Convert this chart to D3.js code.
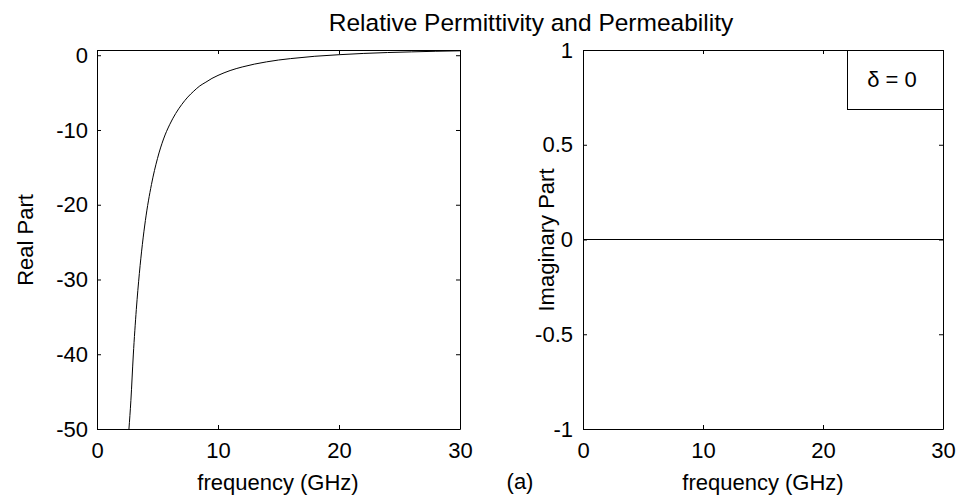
<!DOCTYPE html>
<html>
<head>
<meta charset="utf-8">
<script src="https://cdn.jsdelivr.net/npm/d3@7"></script>
<style>
body { margin: 0; background: #fff; }
text { font-family: "Liberation Sans", Arial, sans-serif; fill: #000; }
</style>
</head>
<body>
<div id="chart-area"></div>
<script>

let width = 961,
height = 497;

// values
let freq = [2.64, 2.8, 3.0, 3.25, 3.5, 3.75, 4.0, 4.5, 5.0, 5.5, 6.0, 6.5, 7.0, 7.5, 8.0, 8.5, 9.0, 9.5,
	10, 11, 12, 13, 14, 15, 16, 18, 20, 22, 24, 26, 28, 30];
let realPart = [-50, -46.2, -40.1, -34.0, -29.2, -25.3, -22.1, -17.3, -13.8, -11.2, -9.3, -7.8, -6.6, -5.6, -4.8, -4.1, -3.6, -3.1,
	-2.7, -2.05, -1.57, -1.19, -0.89, -0.64, -0.45, -0.14, 0.07, 0.24, 0.36, 0.45, 0.53, 0.59];
let imagFreq = [0, 30];
let imagPart = [0, 0];

let xTicks = [0, 10, 20, 30];
let realTicks = [-50, -40, -30, -20, -10, 0];
let imagTicks = [-1, -0.5, 0, 0.5, 1];

let fs = 22;   // font size

let svg = d3.select("#chart-area").append("svg")
	.attr("width", width)
	.attr("height", height);

// draws the 4 sides of one axes box
function drawBox(x, y, yt, ypad) {
	let [x0, x1] = x.range();
	let [y0, y1] = y.range(); // y0 bottom, y1 top

	svg.append("g")
		.attr("transform", "translate(0," + y0 + ")")
		.call(d3.axisBottom(x).tickValues(xTicks).tickSizeInner(-4).tickSizeOuter(0)
			.tickPadding(13).tickFormat(d => String(d)));

	svg.append("g")
		.attr("transform", "translate(0," + y1 + ")")
		.call(d3.axisTop(x).tickValues(xTicks).tickSizeInner(-4).tickSizeOuter(0).tickFormat(""));

	svg.append("g")
		.attr("transform", "translate(" + x0 + ",0)")
		.call(d3.axisLeft(y).tickValues(yt).tickSizeInner(-4).tickSizeOuter(0)
			.tickPadding(ypad).tickFormat(d => String(d)));

	svg.append("g")
		.attr("transform", "translate(" + x1 + ",0)")
		.call(d3.axisRight(y).tickValues(yt).tickSizeInner(-4).tickSizeOuter(0).tickFormat(""));

	svg.selectAll("g")
		.attr("font-size", fs)
		.attr("font-family", "Liberation Sans, Arial, sans-serif");
	svg.selectAll(".domain, .tick line").attr("stroke", "#000");
}

function label(x, y, txt, size, rotate) {
	return svg.append("text")
		.attr("transform", "translate(" + x + "," + y + ")" + (rotate ? " rotate(-90)" : ""))
		.attr("text-anchor", "middle")
		.attr("dy", "0.35em")
		.attr("font-size", size)
		.text(txt);
}

// LEFT: real part
let xL = d3.scaleLinear().domain([0, 30]).range([97, 460]);
let yL = d3.scaleLinear().domain([-50, 0.7]).range([429, 50]);

svg.append("clipPath").attr("id", "clipL")
	.append("rect").attr("x", 97).attr("y", 50).attr("width", 363).attr("height", 379);

let lineL = d3.line()
	.x((d, i) => xL(freq[i]))
	.y(d => yL(d))
	.curve(d3.curveMonotoneX);

svg.append("path")
	.datum(realPart)
	.attr("d", lineL)
	.attr("clip-path", "url(#clipL)")
	.attr("fill", "none")
	.attr("stroke", "#000")
	.attr("stroke-width", 1);

drawBox(xL, yL, realTicks, 9);

// RIGHT: imaginary part
let xR = d3.scaleLinear().domain([0, 30]).range([583, 943]);
let yR = d3.scaleLinear().domain([-1, 1]).range([429, 50]);

let lineR = d3.line()
	.x((d, i) => xR(imagFreq[i]))
	.y(d => yR(d));

svg.append("path")
	.datum(imagPart)
	.attr("d", lineR)
	.attr("fill", "none")
	.attr("stroke", "#000")
	.attr("stroke-width", 1);

drawBox(xR, yR, imagTicks, 10);

// legend
svg.append("rect")
	.attr("x", 847.5).attr("y", 50.5)
	.attr("width", 96).attr("height", 59)
	.attr("fill", "#fff")
	.attr("stroke", "#000");
label(892, 79, "δ = 0", fs);

// texts
label(531, 22, "Relative Permittivity and Permeability", 24.5);
label(278, 482, "frequency (GHz)", fs);
label(763, 482, "frequency (GHz)", fs);
label(520, 481, "(a)", fs);
label(25, 240, "Real Part", fs, true);
label(546, 240, "Imaginary Part", fs, true);

</script>
</body>
</html>
